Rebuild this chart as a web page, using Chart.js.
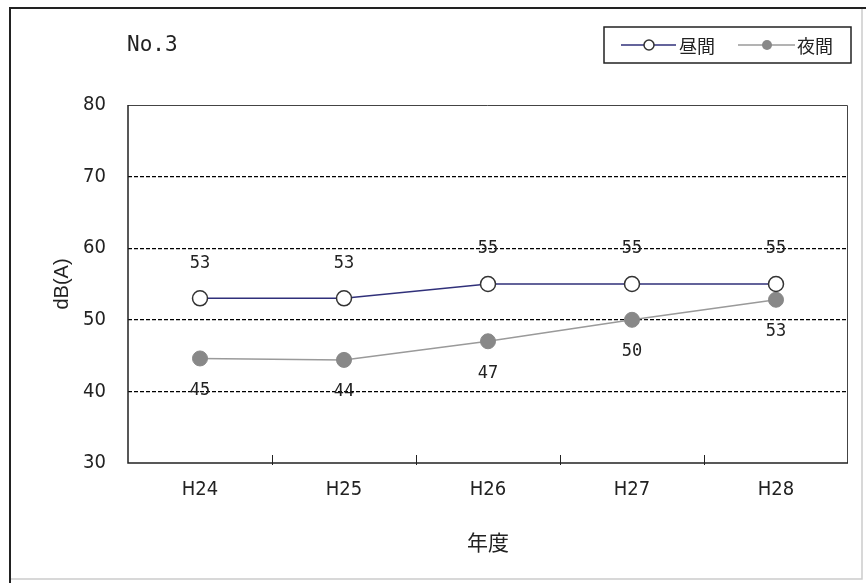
<!DOCTYPE html>
<html>
<head>
<meta charset="utf-8">
<script src="https://cdn.jsdelivr.net/npm/chart.js@4.4.1/dist/chart.umd.min.js"></script>
<style>
  html, body { margin: 0; padding: 0; background: #ffffff; }
  #wrap { position: relative; width: 866px; height: 583px; }
  canvas { display: block; }
</style>
</head>
<body>
<div id="wrap"><canvas id="c" width="866" height="583"></canvas></div>
<script>
// ---- Data ----
const categories = ['H24', 'H25', 'H26', 'H27', 'H28'];
const dayValues = [53, 53, 55, 55, 55];            // 昼間
const nightValues = [44.6, 44.4, 47.0, 50.0, 52.8]; // 夜間
const dayLabels = ['53', '53', '55', '55', '55'];
const nightLabels = ['45', '44', '47', '50', '53'];
const yTicks = [30, 40, 50, 60, 70, 80];
const seriesNames = ['昼間', '夜間'];
const chartTitle = 'No.3';
const xTitle = '年度';
const yTitle = 'dB(A)';

const DAY_LINE = '#30307a';
const DAY_POINT_BORDER = '#333333';
const NIGHT_LINE = '#9a9a9a';
const NIGHT_POINT = '#888888';

const narrowFont = "'Liberation Sans Narrow', 'DejaVu Sans Condensed', 'Liberation Sans', sans-serif";
const monoFont = "'DejaVu Sans Mono', 'Liberation Mono', monospace";
const cjkFont = "'Noto Sans CJK JP', 'Noto Sans', sans-serif";

const decorPlugin = {
  id: 'decor',
  beforeDraw(chart) {
    const ctx = chart.ctx;
    ctx.save();
    ctx.fillStyle = '#ffffff';
    ctx.fillRect(0, 0, chart.width, chart.height);
    ctx.restore();
  },
  afterDatasetsDraw(chart) {
    const ctx = chart.ctx;
    const ca = chart.chartArea;
    const xs = chart.scales.x;
    ctx.save();
    // plot box
    ctx.setLineDash([]);
    ctx.strokeStyle = '#444444';
    ctx.lineWidth = 1;
    ctx.beginPath();
    ctx.moveTo(ca.left, ca.top + 0.5); ctx.lineTo(ca.right - 0.5, ca.top + 0.5); ctx.lineTo(ca.right - 0.5, ca.bottom);
    ctx.stroke();
    ctx.strokeStyle = '#222222';
    ctx.lineWidth = 1.5;
    ctx.beginPath();
    ctx.moveTo(ca.left, ca.top); ctx.lineTo(ca.left, ca.bottom); ctx.lineTo(ca.right, ca.bottom);
    ctx.stroke();
    // inner tick marks between categories
    ctx.lineWidth = 1;
    for (let i = 0; i < categories.length - 1; i++) {
      const x = Math.round((xs.getPixelForValue(i) + xs.getPixelForValue(i + 1)) / 2) + 0.5;
      ctx.beginPath();
      ctx.moveTo(x, ca.bottom - 8);
      ctx.lineTo(x, ca.bottom + 2);
      ctx.stroke();
    }
    // data labels
    ctx.fillStyle = '#222222';
    ctx.font = '17px ' + monoFont;
    ctx.textAlign = 'center';
    ctx.textBaseline = 'middle';
    const m0 = chart.getDatasetMeta(0).data;
    const m1 = chart.getDatasetMeta(1).data;
    m0.forEach((p, i) => ctx.fillText(dayLabels[i], p.x, p.y - 35));
    m1.forEach((p, i) => ctx.fillText(nightLabels[i], p.x, p.y + 32));

    // title text
    ctx.textAlign = 'left';
    ctx.font = '21px ' + monoFont;
    ctx.fillText(chartTitle, 127, 46);

    // legend box
    ctx.strokeStyle = '#222222';
    ctx.lineWidth = 1.5;
    ctx.strokeRect(604, 27, 247, 36);
    const ly = 45;
    // day item
    ctx.strokeStyle = DAY_LINE;
    ctx.lineWidth = 1.5;
    ctx.beginPath(); ctx.moveTo(621, ly); ctx.lineTo(676, ly); ctx.stroke();
    ctx.beginPath(); ctx.arc(649, ly, 5, 0, Math.PI * 2);
    ctx.fillStyle = '#ffffff'; ctx.fill();
    ctx.strokeStyle = DAY_POINT_BORDER; ctx.stroke();
    // night item
    ctx.strokeStyle = NIGHT_LINE;
    ctx.beginPath(); ctx.moveTo(738, ly); ctx.lineTo(795, ly); ctx.stroke();
    ctx.beginPath(); ctx.arc(767, ly, 5, 0, Math.PI * 2);
    ctx.fillStyle = NIGHT_POINT; ctx.fill();
    // legend texts
    ctx.fillStyle = '#222222';
    ctx.font = '18px ' + cjkFont;
    ctx.textAlign = 'left';
    ctx.textBaseline = 'middle';
    ctx.fillText(seriesNames[0], 679, ly + 1);
    ctx.fillText(seriesNames[1], 797, ly + 1);

    // outer frame
    ctx.strokeStyle = '#cccccc';
    ctx.lineWidth = 1.5;
    ctx.beginPath(); ctx.moveTo(862, 9); ctx.lineTo(862, 579); ctx.lineTo(10, 579); ctx.stroke();
    ctx.strokeStyle = '#222222';
    ctx.lineWidth = 2;
    ctx.beginPath(); ctx.moveTo(10, 583); ctx.lineTo(10, 8); ctx.lineTo(866, 8); ctx.stroke();
    ctx.restore();
  }
};

new Chart(document.getElementById('c'), {
  type: 'line',
  data: {
    labels: categories,
    datasets: [
      {
        label: seriesNames[0],
        data: dayValues,
        borderColor: DAY_LINE,
        borderWidth: 1.5,
        pointRadius: 7.5,
        pointBackgroundColor: '#ffffff',
        pointBorderColor: DAY_POINT_BORDER,
        pointBorderWidth: 1.5,
        tension: 0
      },
      {
        label: seriesNames[1],
        data: nightValues,
        borderColor: NIGHT_LINE,
        borderWidth: 1.5,
        pointRadius: 7.5,
        pointBackgroundColor: NIGHT_POINT,
        pointBorderColor: NIGHT_POINT,
        pointBorderWidth: 1,
        tension: 0
      }
    ]
  },
  options: {
    responsive: false,
    animation: false,
    devicePixelRatio: 1,
    layout: { padding: { left: 10, right: 18, top: 105, bottom: 0 } },
    plugins: {
      legend: { display: false },
      tooltip: { enabled: false },
      title: { display: false }
    },
    scales: {
      x: {
        type: 'category',
        offset: true,
        grid: { display: true, drawOnChartArea: false, drawTicks: false, color: 'rgba(0,0,0,0)', offset: true },
        border: { display: false },
        ticks: {
          color: '#222222',
          padding: 15,
          maxRotation: 0,
          font: { family: narrowFont, size: 20 }
        },
        title: {
          display: true,
          text: xTitle,
          color: '#222222',
          font: { family: cjkFont, size: 21 },
          padding: { top: 28, bottom: 28 }
        },
        afterFit(s) { s.height = 120; }
      },
      y: {
        min: 30,
        max: 80,
        afterBuildTicks(s) { s.ticks = yTicks.map(v => ({ value: v })); },
        grid: {
          drawTicks: false,
          color: ctx => (ctx.tick && (ctx.tick.value === 30 || ctx.tick.value === 80)) ? 'rgba(0,0,0,0)' : '#000000',
          lineWidth: 1.2
        },
        border: { display: false, dash: [4, 2] },
        ticks: {
          color: '#222222',
          padding: 22,
          font: { family: narrowFont, size: 20 }
        },
        title: {
          display: true,
          text: yTitle,
          color: '#222222',
          font: { family: "'Liberation Sans', Arial, sans-serif", size: 20 },
          padding: { top: 40, bottom: 40 }
        },
        afterFit(s) { s.width = 118; }
      }
    }
  },
  plugins: [decorPlugin]
});
</script>
</body>
</html>
